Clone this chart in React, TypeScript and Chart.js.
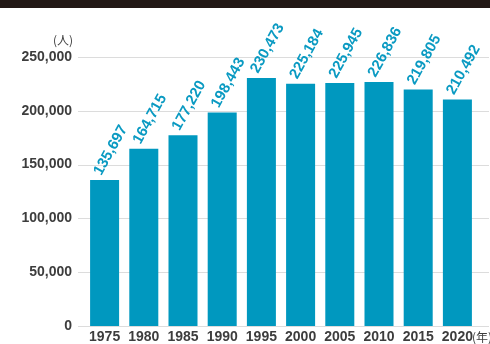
import React, { useEffect, useRef } from "react";
import { Chart, registerables } from "chart.js";

Chart.register(...registerables);

const years = ["1975", "1980", "1985", "1990", "1995", "2000", "2005", "2010", "2015", "2020"];
const population = [135697, 164715, 177220, 198443, 230473, 225184, 225945, 226836, 219805, 210492];
const yTicks = [0, 50000, 100000, 150000, 200000, 250000];
const yUnit = "(人)";
const xUnit = "(年)";

const BAR = "#0098BF";
const LABEL = "#0A9AC2";
const TEXT = "#3d3d3d";
const FONT = "'Liberation Sans Narrow', 'Arial Narrow', sans-serif";

export default function App() {
  const ref = useRef<HTMLCanvasElement | null>(null);
  useEffect(() => {
    document.body.style.margin = "0";
    const canvas = ref.current!;
    const fmt = (v: number) => v.toLocaleString("en-US");

    const extras = {
      id: "extras",
      beforeDraw(chart: any) {
        const ctx = chart.ctx;
        ctx.save();
        ctx.fillStyle = "#231916";
        ctx.fillRect(0, 0, chart.width, 8);
        const y = chart.scales.y;
        ctx.strokeStyle = "#dcdcdc";
        ctx.lineWidth = 1;
        yTicks.forEach((t) => {
          const py = Math.round(y.getPixelForValue(t)) + 0.5;
          ctx.beginPath();
          ctx.moveTo(78, py);
          ctx.lineTo(chart.width - 1, py);
          ctx.stroke();
        });
        ctx.restore();
      },
      afterDraw(chart: any) {
        const ctx = chart.ctx;
        const meta = chart.getDatasetMeta(0);
        ctx.save();
        ctx.font = `bold 15px ${FONT}`;
        ctx.fillStyle = LABEL;
        ctx.textAlign = "left";
        ctx.textBaseline = "middle";
        meta.data.forEach((bar: any, i: number) => {
          ctx.save();
          ctx.translate(bar.x - 7, bar.y - 6);
          ctx.rotate((-61 * Math.PI) / 180);
          ctx.fillText(fmt(population[i]), 0, 0);
          ctx.restore();
        });
        // unit labels
        ctx.fillStyle = TEXT;
        ctx.font = `12px 'Noto Sans CJK JP', sans-serif`;
        ctx.textAlign = "right";
        ctx.fillText(yUnit, 73, 40);
        const x = chart.scales.x;
        const lastX = x.getPixelForValue(years.length - 1);
        ctx.font = `bold 14px ${FONT}`;
        const w = ctx.measureText(years[years.length - 1]).width;
        ctx.textAlign = "left";
        ctx.font = `12px 'Noto Sans CJK JP', sans-serif`;
        ctx.fillText(xUnit, lastX + w / 2 - 1, x.top + 11.5);
        ctx.restore();
      },
    };

    const chart = new Chart(canvas, {
      type: "bar",
      data: {
        labels: years,
        datasets: [
          {
            data: population,
            backgroundColor: BAR,
            borderWidth: 0,
            categoryPercentage: 1,
            barPercentage: 0.74,
          },
        ],
      },
      options: {
        animation: false,
        responsive: false,
        maintainAspectRatio: false,
        layout: { padding: { top: 57, right: 13, bottom: 0, left: 0 } },
        plugins: { legend: { display: false }, tooltip: { enabled: false } },
        scales: {
          x: {
            afterFit: (s: any) => {
              s.height = 18;
            },
            grid: { display: false, drawTicks: false },
            border: { display: false },
            ticks: {
              color: TEXT,
              padding: 3,
              maxRotation: 0,
              minRotation: 0,
              autoSkip: false,
              font: { family: FONT, size: 14, weight: "bold" },
            },
          },
          y: {
            min: 0,
            max: 250000,
            afterFit: (s: any) => {
              s.width = 85;
              s.paddingTop = 0;
              s.paddingBottom = 0;
            },
            afterBuildTicks: (s: any) => {
              s.ticks = yTicks.map((v) => ({ value: v }));
            },
            grid: { display: false, drawTicks: false },
            border: { display: false },
            ticks: {
              color: TEXT,
              padding: 13,
              font: { family: FONT, size: 14, weight: "bold" },
              callback: (v: any) => fmt(Number(v)),
            },
          },
        },
      },
      plugins: [extras],
    });
    return () => chart.destroy();
  }, []);
  return <canvas ref={ref} width={490} height={344} style={{ display: "block" }} />;
}
